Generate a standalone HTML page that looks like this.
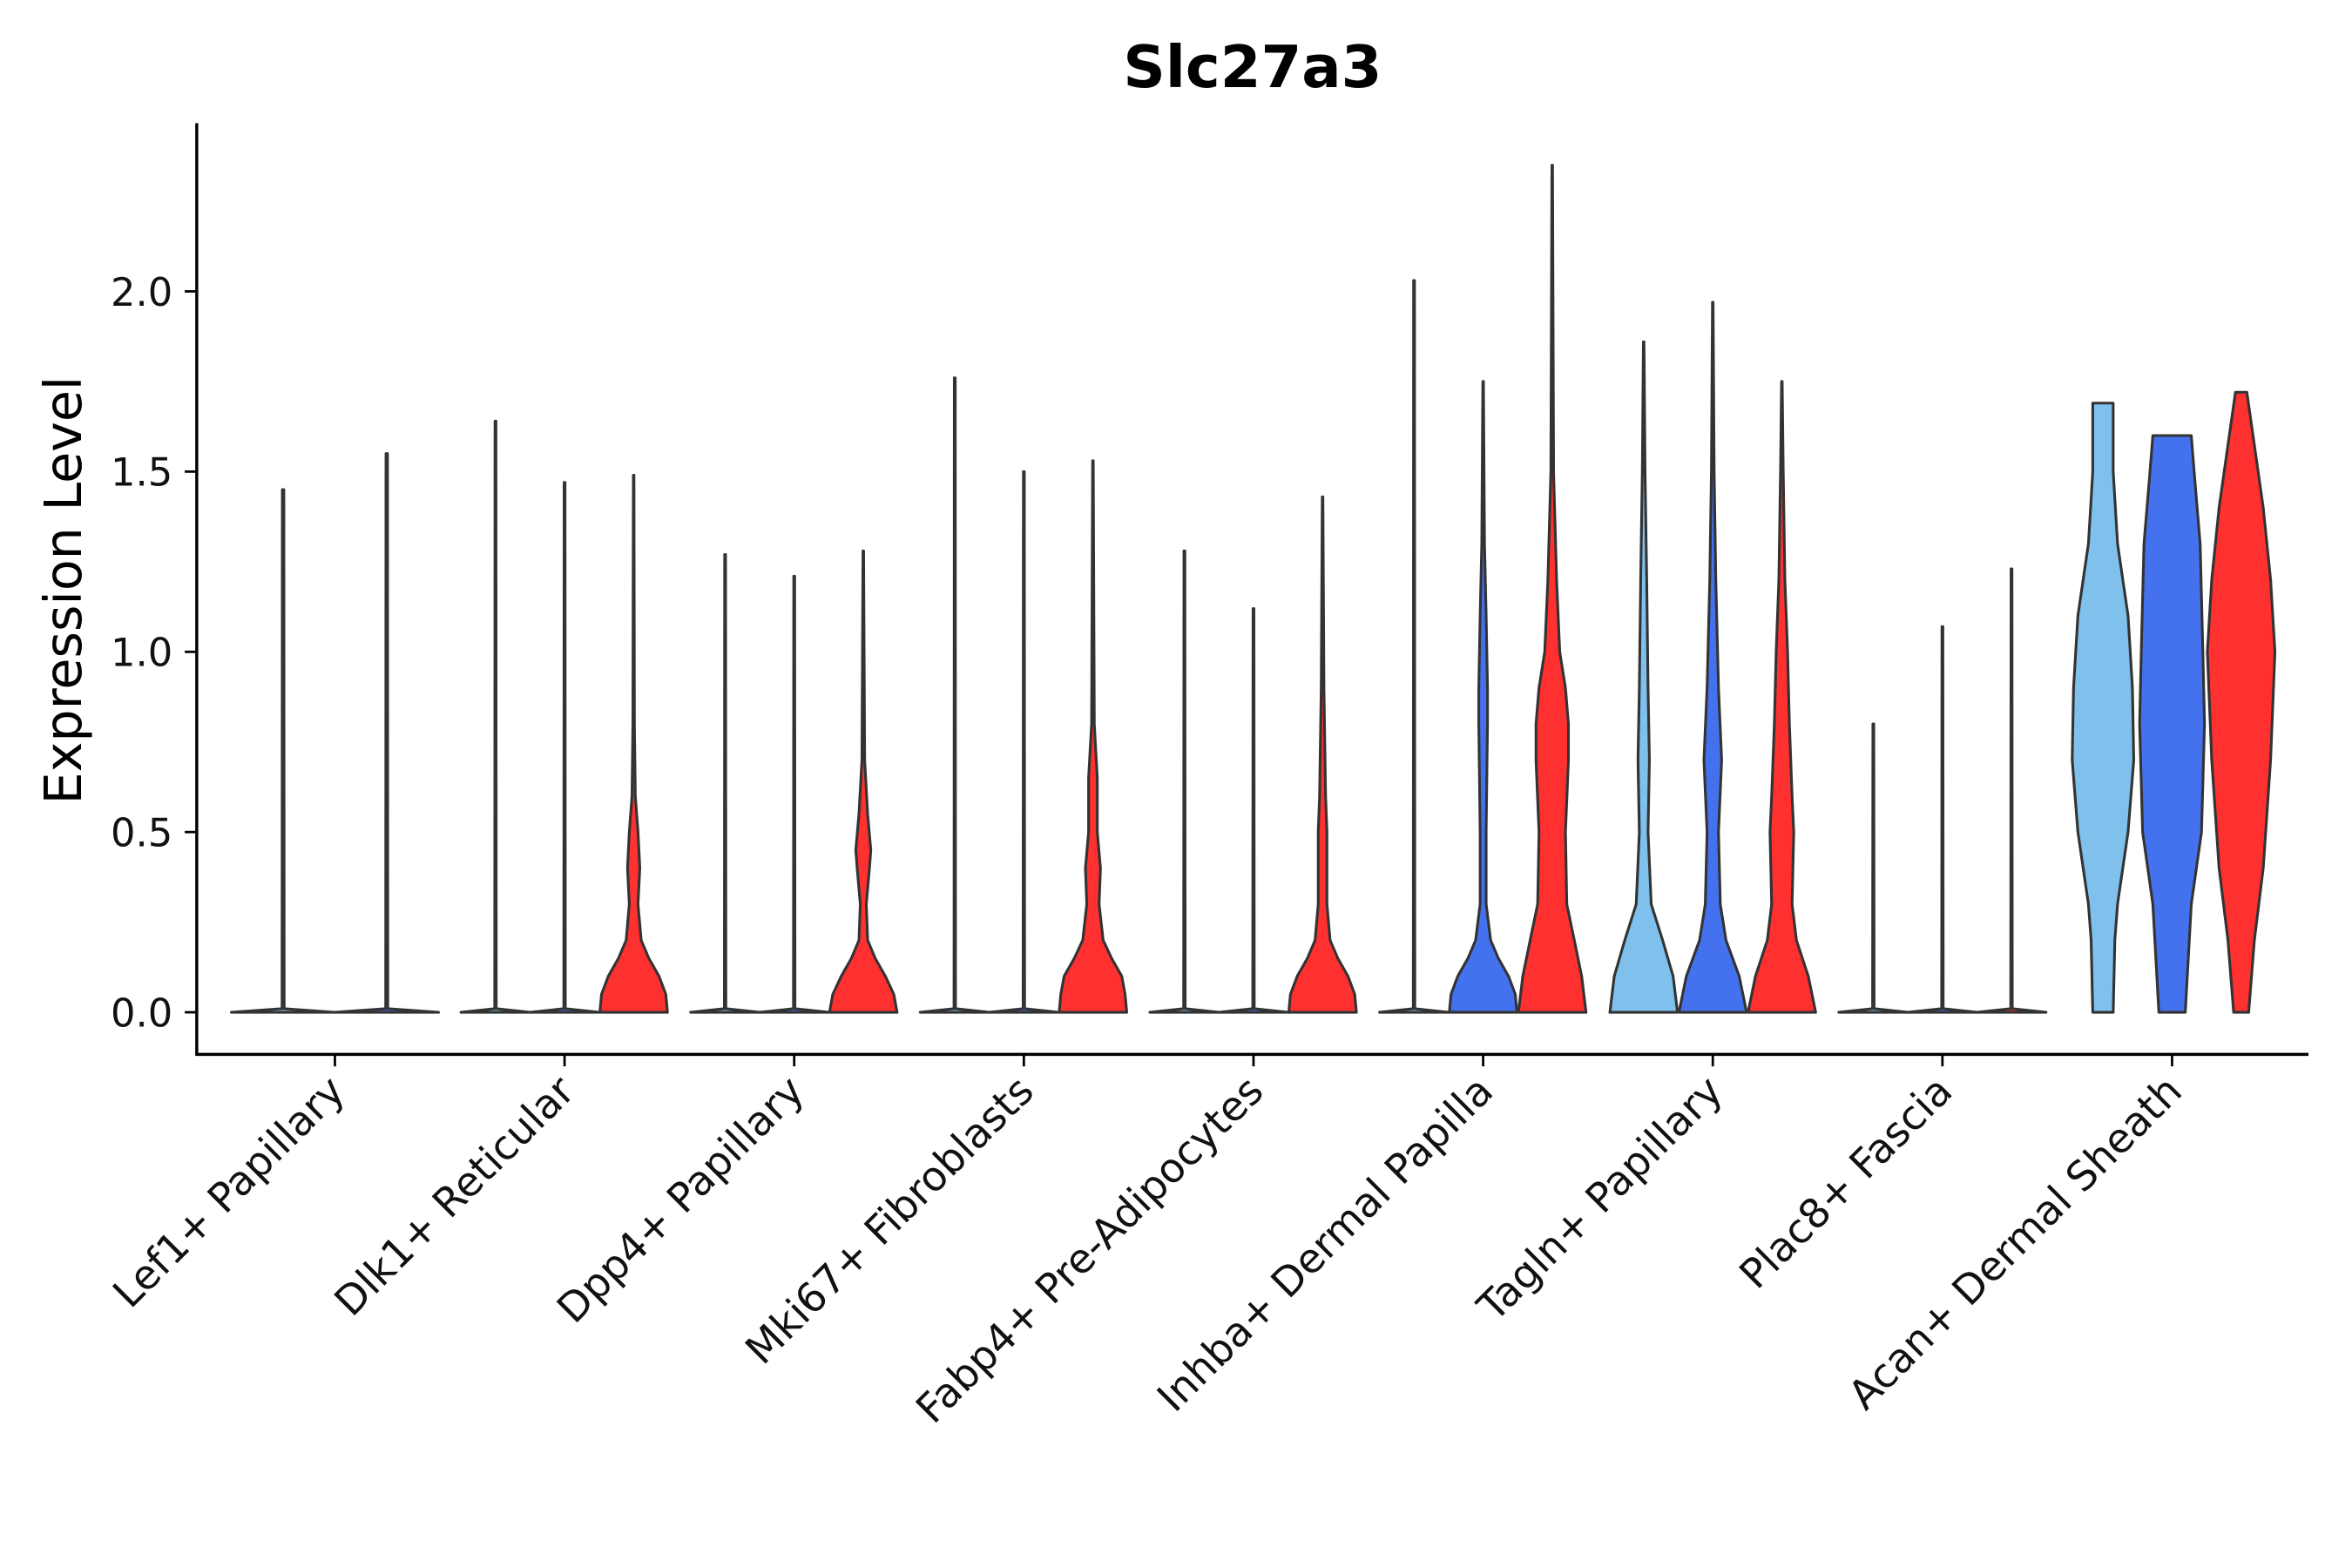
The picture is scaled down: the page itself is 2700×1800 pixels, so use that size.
<!DOCTYPE html>
<html><head><meta charset="utf-8"><style>html,body{margin:0;padding:0;background:#fff}svg{display:block}</style></head>
<body>
<svg id="chart" width="2700" height="1800" viewBox="0 0 1566 1044" xmlns="http://www.w3.org/2000/svg" font-family="'DejaVu Sans','Liberation Sans',sans-serif">
<rect width="1566" height="1044" fill="#fff"/>
<text x="834" y="58" text-anchor="middle" font-size="39" font-weight="bold">Slc27a3</text>
<text transform="translate(54,393) rotate(-90)" text-anchor="middle" font-size="34">Expression Level</text>
<g id="marks"></g>
<g id="axes"></g>
</svg>
<script>
const categories = ["Lef1+ Papillary","Dlk1+ Reticular","Dpp4+ Papillary","Mki67+ Fibroblasts","Fabp4+ Pre-Adipocytes","Inhba+ Dermal Papilla","Tagln+ Papillary","Plac8+ Fascia","Acan+ Dermal Sheath"];
const yTicks = [0, 0.5, 1, 1.5, 2];
const yTickLabels = ["0.0","0.5","1.0","1.5","2.0"];
const groupColors = ["#7FC1EC","#4472EE","#FF3030"];
const groupsPresent = [[0,1],[0,1,2],[0,1,2],[0,1,2],[0,1,2],[0,1,2],[0,1,2],[0,1,2],[0,1,2]];
const maxValues = [[1.45,1.55],[1.64,1.47,1.49],[1.27,1.21,1.28],[1.76,1.50,1.53],[1.28,1.12,1.43],[2.03,1.75,2.35],[1.86,1.97,1.75],[0.80,1.07,1.23],[1.69,1.60,1.72]];
const profiles = [
 [null,null],
 [null,null,[[0,1],[0.05,0.95],[0.1,0.75],[0.15,0.45],[0.2,0.22],[0.3,0.13],[0.4,0.18],[0.5,0.13],[0.6,0.05],[0.8,0.02],[1.49,0.01]]],
 [null,null,[[0,1],[0.05,0.9],[0.1,0.65],[0.15,0.35],[0.2,0.13],[0.3,0.09],[0.4,0.18],[0.45,0.22],[0.55,0.13],[0.7,0.04],[1.28,0.01]]],
 [null,null,[[0,1],[0.05,0.95],[0.1,0.85],[0.15,0.55],[0.2,0.3],[0.3,0.18],[0.4,0.22],[0.5,0.13],[0.65,0.13],[0.8,0.04],[1.53,0.01]]],
 [null,null,[[0,1],[0.05,0.95],[0.1,0.75],[0.15,0.45],[0.2,0.22],[0.3,0.13],[0.4,0.13],[0.5,0.13],[0.6,0.09],[0.9,0.04],[1.43,0.01]]],
 [null,[[0,1],[0.05,0.95],[0.1,0.75],[0.15,0.45],[0.2,0.22],[0.3,0.09],[0.5,0.09],[0.8,0.13],[0.9,0.13],[1.1,0.09],[1.3,0.04],[1.75,0.01]],
      [[0,1],[0.1,0.87],[0.2,0.65],[0.3,0.43],[0.5,0.39],[0.7,0.48],[0.8,0.48],[0.9,0.39],[1.0,0.22],[1.2,0.13],[1.5,0.04],[2.35,0.01]]],
 [[[0,1],[0.1,0.87],[0.2,0.56],[0.3,0.22],[0.5,0.13],[0.7,0.17],[0.9,0.13],[1.2,0.09],[1.5,0.04],[1.86,0.01]],
  [[0,1],[0.1,0.78],[0.2,0.39],[0.3,0.22],[0.5,0.17],[0.7,0.26],[0.9,0.17],[1.2,0.09],[1.5,0.04],[1.97,0.01]],
  [[0,1],[0.1,0.78],[0.2,0.43],[0.3,0.3],[0.5,0.35],[0.6,0.3],[0.8,0.22],[1.0,0.17],[1.2,0.09],[1.5,0.04],[1.75,0.01]]],
 [null,null,null],
 [[[0,0.3],[0.2,0.35],[0.3,0.43],[0.5,0.74],[0.7,0.91],[0.9,0.87],[1.1,0.74],[1.3,0.43],[1.5,0.3],[1.69,0.3]],
  [[0,0.39],[0.3,0.57],[0.5,0.87],[0.8,0.96],[1.0,0.91],[1.3,0.83],[1.5,0.65],[1.6,0.57]],
  [[0,0.22],[0.2,0.39],[0.4,0.65],[0.7,0.87],[1.0,1.0],[1.2,0.87],[1.4,0.65],[1.6,0.35],[1.72,0.17]]]
];
const NS="http://www.w3.org/2000/svg";
const X0=131,X1=1537,Y0=82,YB=702;
const y=v=>674-v*240;
const xCat=i=>223+i*152.9;
const marks=document.getElementById('marks'), axes=document.getElementById('axes');
function mk(tag,attrs,parent){const e=document.createElementNS(NS,tag);for(const k in attrs)e.setAttribute(k,attrs[k]);parent.appendChild(e);return e;}
function buildPath(pts,cx,hw){
  const r=pts.map(p=>[cx+p[1]*hw,y(p[0])]);
  const l=pts.slice().reverse().map(p=>[cx-p[1]*hw,y(p[0])]);
  return 'M'+r.concat(l).map(p=>p[0].toFixed(1)+','+p[1].toFixed(1)).join('L')+'Z';
}
categories.forEach((c,i)=>{
  const gp=groupsPresent[i], n=gp.length, slot=138/n, hw=slot/2;
  gp.forEach((g,j)=>{
    const cx=xCat(i)-69+slot*(j+0.5);
    const prof=profiles[i][j], mx=maxValues[i][j];
    const d=prof?buildPath(prof,cx,hw*0.98):buildPath([[0,1],[0.01,0.02],[mx,0.015]],cx,hw);
    const p=mk('path',{d:d,fill:groupColors[g],stroke:"#333",'stroke-width':1.8,'stroke-linejoin':'round'},marks);
    
    
  });
});
const yl=mk('line',{x1:X0,y1:Y0,x2:X0,y2:YB,stroke:"#000",'stroke-width':2},axes);


const xl=mk('line',{x1:X0-1,y1:YB,x2:X1,y2:YB,stroke:"#000",'stroke-width':2},axes);


yTicks.forEach((t,k)=>{
  mk('line',{x1:X0-8,x2:X0,y1:y(t),y2:y(t),stroke:"#000",'stroke-width':1.6},axes);
  const tx=mk('text',{x:X0-16,y:y(t)+9.5,'text-anchor':'end','font-size':26,fill:'#111'},axes);
  tx.textContent=yTickLabels[k];
  
  
});
categories.forEach((c,i)=>{
  const cx=xCat(i);
  mk('line',{x1:cx,x2:cx,y1:YB,y2:YB+8,stroke:"#000",'stroke-width':1.6},axes);
  const tx=mk('text',{transform:`translate(${cx+8},${YB+26}) rotate(-45)`,'text-anchor':'end','font-size':27,fill:'#111'},axes);
  tx.textContent=c;
  
  
});
</script>
</body></html>
